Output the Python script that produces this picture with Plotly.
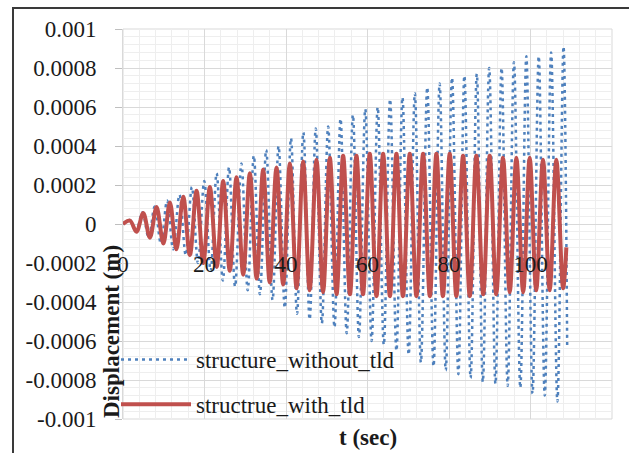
import plotly.graph_objects as go

# ---- data ----
red_peak_t = [1.7, 4.97, 8.24, 11.51, 14.78, 18.05, 21.32, 24.59, 27.86, 31.13, 34.4, 37.67,
              40.94, 44.21, 47.48, 50.75, 54.02, 57.29, 60.56, 63.83, 67.1, 70.37, 73.64, 76.91,
              80.18, 83.45, 86.72, 89.99, 93.26, 96.53, 99.8, 103.07, 106.34]
red_peak_y = [0.000017, 0.000056, 0.000087, 0.00011, 0.00014, 0.00017, 0.00019, 0.00022, 0.00024,
              0.00026, 0.00028, 0.00029, 0.00031, 0.00032, 0.00033, 0.00034, 0.00035, 0.00035,
              0.00036, 0.00036, 0.00036, 0.00036, 0.00036, 0.00036, 0.00036, 0.00035, 0.00035,
              0.00035, 0.00034, 0.00034, 0.00034, 0.00033, 0.00033]
red_trough_t = [3.3, 6.6, 9.9, 13.1, 16.4, 19.7, 23.0, 26.2, 29.5, 32.8, 36.0, 39.3, 42.6, 45.8,
                49.1, 52.4, 55.7, 58.9, 62.2, 65.5, 68.7, 72.0, 75.3, 78.5, 81.8, 85.1, 88.4,
                91.6, 94.9, 98.2, 101.4, 104.7, 108.0]
red_trough_y = [-0.00004, -0.00007, -0.0001, -0.00013, -0.00016, -0.0002, -0.00022, -0.00024,
                -0.00026, -0.00028, -0.0003, -0.00031, -0.00033, -0.00034, -0.00035, -0.00036,
                -0.00036, -0.00036, -0.00037, -0.00037, -0.00037, -0.00037, -0.00037, -0.00037,
                -0.00037, -0.00037, -0.00036, -0.00036, -0.00035, -0.00035, -0.00034, -0.00034,
                -0.00033]
red_start = (0.0, 0.0)
red_end = (108.8, -0.00012)

blue_peak_t = [1.7, 4.74, 7.78, 10.82, 13.86, 16.9, 19.94, 22.98, 26.02, 29.06, 32.1, 35.14,
               38.18, 41.22, 44.26, 47.3, 50.34, 53.38, 56.42, 59.46, 62.5, 65.54, 68.58, 71.62,
               74.66, 77.7, 80.74, 83.78, 86.82, 89.86, 92.9, 95.94, 98.98, 102.02, 105.06, 108.1]
blue_peak_y = [0.00002, 0.00006, 0.00009, 0.00012, 0.00015, 0.00019, 0.00022, 0.00026, 0.00029,
               0.00031, 0.00035, 0.00038, 0.0004, 0.00044, 0.00047, 0.00049, 0.0005, 0.00054,
               0.00056, 0.00059, 0.0006, 0.00064, 0.00065, 0.00067, 0.0007, 0.00072, 0.00075,
               0.00076, 0.00077, 0.0008, 0.0008, 0.00083, 0.00086, 0.00086, 0.00088, 0.00091]
blue_trough_t = [3.2, 6.3, 9.3, 12.3, 15.4, 18.4, 21.5, 24.5, 27.5, 30.6, 33.6, 36.7, 39.7, 42.7,
                 45.8, 48.8, 51.9, 54.9, 57.9, 61.0, 64.0, 67.1, 70.1, 73.1, 76.2, 79.2, 82.3,
                 85.3, 88.3, 91.4, 94.4, 97.5, 100.5, 103.5, 106.6]
blue_trough_y = [-0.00004, -0.00007, -0.0001, -0.00013, -0.00016, -0.0002, -0.00024, -0.00029,
                 -0.00032, -0.00034, -0.00036, -0.00039, -0.00043, -0.00046, -0.00049, -0.00051,
                 -0.00053, -0.00056, -0.00058, -0.0006, -0.00062, -0.00065, -0.00067, -0.00071,
                 -0.00073, -0.00075, -0.00077, -0.00079, -0.00081, -0.00082, -0.00083, -0.00084,
                 -0.00087, -0.00088, -0.00091]
blue_start = (0.0, 0.0)
blue_end = (109.0, -0.00063)

y_tickvals = [0.001, 0.0008, 0.0006, 0.0004, 0.0002, 0, -0.0002, -0.0004, -0.0006, -0.0008, -0.001]
y_ticktext = ["0.001", "0.0008", "0.0006", "0.0004", "0.0002", "0", "-0.0002", "-0.0004",
              "-0.0006", "-0.0008", "-0.001"]
x_tickvals = [0, 20, 40, 60, 80, 100, 120]
x_ticktext = ["0", "20", "40", "60", "80", "100", "120"]


def merge(start, pt, py, tt, ty, end):
    pts = [start]
    pts += list(zip(pt, py))
    pts += list(zip(tt, ty))
    pts.sort(key=lambda p: p[0])
    pts.append(end)
    return [p[0] for p in pts], [p[1] for p in pts]


bx, by = merge(blue_start, blue_peak_t, blue_peak_y, blue_trough_t, blue_trough_y, blue_end)
rx, ry = merge(red_start, red_peak_t, red_peak_y, red_trough_t, red_trough_y, red_end)

FONT = "Times New Roman, Liberation Serif, DejaVu Serif, serif"
W, H = 629, 453
ml, mr, mt, mb = 123, 17, 29, 34
pw, ph = W - ml - mr, H - mt - mb


def px_to_paper_x(x):
    return (x - ml) / pw


def px_to_paper_y(y):
    return (H - mb - y) / ph


fig = go.Figure()
fig.add_trace(go.Scatter(x=bx, y=by, mode="lines", name="structure_without_tld",
                         legendgroup="a",
                         line=dict(color="#4f81bd", width=2.5, dash="3px,4px", shape="spline",
                                   smoothing=1.0)))
fig.add_trace(go.Scatter(x=rx, y=ry, mode="lines", name="structrue_with_tld",
                         legendgroup="b",
                         line=dict(color="#c0504d", width=4, shape="spline", smoothing=1.0)))

fig.update_layout(
    width=W, height=H,
    margin=dict(l=ml, r=mr, t=mt, b=mb),
    paper_bgcolor="white", plot_bgcolor="white",
    font=dict(family=FONT, size=23, color="#1a1a1a"),
    showlegend=True,
    legend=dict(x=px_to_paper_x(116), y=px_to_paper_y(338), xanchor="left", yanchor="top",
                bgcolor="rgba(0,0,0,0)", borderwidth=0, tracegroupgap=12, itemwidth=70,
                font=dict(family=FONT, size=23, color="#1a1a1a")),
    xaxis=dict(range=[0, 120], tickvals=x_tickvals, ticktext=x_ticktext,
               anchor="free", position=px_to_paper_y(248),
               showline=False, ticks="", zeroline=False,
               showgrid=True, gridcolor="#d9d9d9", gridwidth=1,
               minor=dict(dtick=4, showgrid=True, gridcolor="#eeeeee", gridwidth=1),
               title=None),
    yaxis=dict(range=[-0.001, 0.001], tickvals=y_tickvals, ticktext=y_ticktext,
               showline=True, linecolor="#d9d9d9", linewidth=1,
               ticks="outside", ticklen=7, tickcolor="#bfbfbf", zeroline=False,
               showgrid=True, gridcolor="#d9d9d9", gridwidth=1,
               minor=dict(dtick=0.00004, showgrid=True, gridcolor="#eeeeee", gridwidth=1),
               ticklabelstandoff=14),
    shapes=[
        dict(type="rect", xref="paper", yref="paper", x0=0, x1=1, y0=0, y1=1,
             line=dict(color="#d9d9d9", width=1), layer="below"),
        dict(type="rect", xref="paper", yref="paper",
             x0=px_to_paper_x(13), x1=px_to_paper_x(700),
             y0=px_to_paper_y(520), y1=px_to_paper_y(8),
             line=dict(color="#3a3a3a", width=2), layer="above"),
    ],
    annotations=[
        dict(text="<b>Displacement (m)</b>", textangle=-90, xref="paper", yref="paper",
             x=px_to_paper_x(111), y=px_to_paper_y(332), xanchor="center", yanchor="middle",
             showarrow=False, font=dict(family=FONT, size=23, color="#1a1a1a")),
        dict(text="<b>t (sec)</b>", xref="paper", yref="paper",
             x=px_to_paper_x(368), y=px_to_paper_y(437), xanchor="center", yanchor="middle",
             showarrow=False, font=dict(family=FONT, size=23, color="#1a1a1a")),
    ],
)

fig.write_html("out.html")
